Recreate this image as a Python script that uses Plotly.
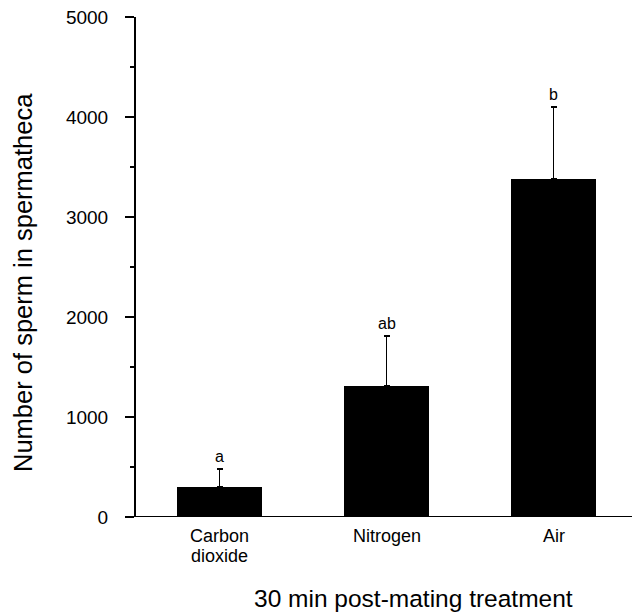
import plotly.graph_objects as go

# Data
categories = ["Carbon dioxide", "Nitrogen", "Air"]
category_lines = [["Carbon", "dioxide"], ["Nitrogen"], ["Air"]]
means = [300, 1310, 3380]
errors_up = [180, 500, 720]
letters = ["a", "ab", "b"]
y_tick_vals = [0, 1000, 2000, 3000, 4000, 5000]
y_tick_text = ["0", "1000", "2000", "3000", "4000", "5000"]

FONT = "Liberation Sans, Arial, Helvetica, sans-serif"
x_idx = list(range(len(categories)))

W, H = 632, 613
L, R, T, B = 136, 0, 17, 96
pw, ph = W - L - R, H - T - B


def px_to_paper(px, py):
    return (px - L) / pw, (H - B - py) / ph


fig = go.Figure()
fig.add_trace(go.Bar(
    x=x_idx, y=means, width=0.51,
    marker=dict(color="black", line=dict(width=0)),
    error_y=dict(type="data", array=errors_up, arrayminus=[0] * len(means),
                 symmetric=False, color="black", thickness=1.5, width=3),
    showlegend=False, hoverinfo="skip",
))

annotations = []
# significance letters
for i, (m, e, l) in enumerate(zip(means, errors_up, letters)):
    annotations.append(dict(x=i, y=m + e, xref="x", yref="y", text=l, showarrow=False,
                            xanchor="center", yanchor="bottom", yshift=2,
                            font=dict(family=FONT, size=16, color="black")))
# category labels (tight line spacing)
for i, lines in enumerate(category_lines):
    for j, line in enumerate(lines):
        annotations.append(dict(x=i, y=0, xref="x", yref="paper", text=line, showarrow=False,
                                xanchor="center", yanchor="top", yshift=-8 - 20 * j,
                                borderpad=0,
                                font=dict(family=FONT, size=18, color="black")))
# axis titles
tx, ty = px_to_paper(413, 598)
annotations.append(dict(x=tx, y=ty, xref="paper", yref="paper", text="30 min post-mating treatment",
                        showarrow=False, xanchor="center", yanchor="middle",
                        font=dict(family=FONT, size=24.5, color="black")))
yx, yy = px_to_paper(23, 283)
annotations.append(dict(x=yx, y=yy, xref="paper", yref="paper", text="Number of sperm in spermatheca",
                        showarrow=False, textangle=-90, xanchor="center", yanchor="middle",
                        font=dict(family=FONT, size=25.5, color="black")))

fig.update_layout(
    width=W, height=H,
    margin=dict(l=L, r=R, t=T, b=B, pad=0),
    plot_bgcolor="white", paper_bgcolor="white",
    font=dict(family=FONT, color="black"),
    bargap=0,
    annotations=annotations,
    shapes=[dict(type="line", xref="paper", yref="y", x0=-9 / pw, x1=1, y0=0, y1=0,
                 line=dict(color="black", width=2))],
    xaxis=dict(range=[-0.5, 2.47], showticklabels=False, ticks="", showline=False,
               showgrid=False, zeroline=False, fixedrange=True),
    yaxis=dict(range=[0, 5000], tickvals=y_tick_vals, ticktext=y_tick_text,
               ticks="outside", ticklen=9, tickwidth=2, tickcolor="black",
               showline=True, linecolor="black", linewidth=2, showgrid=False,
               zeroline=False, ticklabelstandoff=13, ticklabeloverflow="allow",
               tickfont=dict(family=FONT, size=19, color="black"),
               minor=dict(dtick=500, tick0=0, ticks="outside", ticklen=4, tickwidth=2,
                          tickcolor="black", showgrid=False)),
)

fig.write_html("out.html", config={"displayModeBar": False},
               post_script="document.body.style.margin='0';")
